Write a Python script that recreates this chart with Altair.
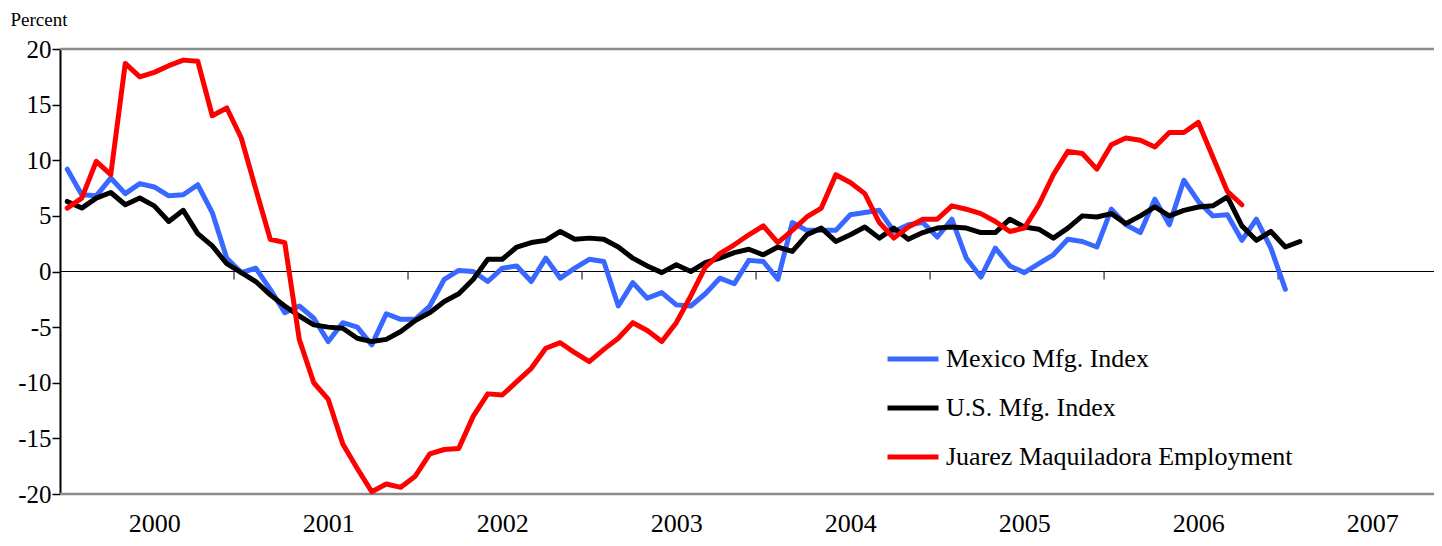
import altair as alt
import pandas as pd

# ---- data (monthly, Jan 2000 = index 0) ----
years = ["2000", "2001", "2002", "2003", "2004", "2005", "2006", "2007"]
year_label_pos = [6, 18, 30, 42, 54, 66, 78, 90]
year_boundaries = [11.5, 23.5, 35.5, 47.5, 59.5, 71.5, 83.5]
y_ticks = [-20, -15, -10, -5, 0, 5, 10, 15, 20]

series_names = ["Mexico Mfg. Index", "U.S. Mfg. Index", "Juarez Maquiladora Employment"]
series_colors = ["#3868FF", "#000000", "#FF0000"]

mexico = [9.2, 6.9, 6.8, 8.4, 7.0, 7.9, 7.6, 6.8, 6.9, 7.8, 5.3, 1.2,
          -0.1, 0.3, -1.6, -3.7, -3.1, -4.2, -6.3, -4.6, -5.0, -6.6, -3.8, -4.3,
          -4.3, -3.1, -0.7, 0.1, 0.0, -0.9, 0.3, 0.5, -0.9, 1.2, -0.6, 0.3,
          1.1, 0.9, -3.1, -1.0, -2.4, -1.9, -3.0, -3.1, -2.0, -0.6, -1.1, 1.0,
          0.9, -0.7, 4.4, 3.7, 3.7, 3.7, 5.1, 5.3, 5.5, 3.6, 4.2, 4.4,
          3.1, 4.7, 1.2, -0.5, 2.1, 0.5, -0.1, 0.7, 1.5, 2.9, 2.7, 2.2,
          5.6, 4.2, 3.5, 6.5, 4.2, 8.2, 6.3, 5.0, 5.1, 2.8, 4.7, 2.1,
          -1.6]

us = [6.3, 5.7, 6.6, 7.1, 6.0, 6.6, 5.9, 4.5, 5.5, 3.4, 2.3, 0.7,
      -0.1, -0.9, -2.1, -3.1, -4.0, -4.8, -5.0, -5.1, -6.0, -6.3, -6.1, -5.4,
      -4.4, -3.7, -2.7, -2.0, -0.7, 1.1, 1.1, 2.2, 2.6, 2.8, 3.6, 2.9,
      3.0, 2.9, 2.2, 1.2, 0.5, -0.1, 0.6, 0.0, 0.8, 1.2, 1.7, 2.0,
      1.5, 2.2, 1.8, 3.3, 3.9, 2.7, 3.3, 4.0, 3.0, 3.9, 2.9, 3.5,
      3.9, 4.0, 3.9, 3.5, 3.5, 4.7, 4.0, 3.8, 3.0, 3.9, 5.0, 4.9,
      5.2, 4.3, 5.0, 5.8, 5.0, 5.5, 5.8, 5.9, 6.7, 4.1, 2.8, 3.6,
      2.2, 2.7]

juarez = [5.7, 6.6, 9.9, 8.7, 18.7, 17.5, 17.9, 18.5, 19.0, 18.9, 14.0, 14.7,
          12.0, 7.4, 2.9, 2.6, -6.1, -10.0, -11.5, -15.5, -17.7, -19.8, -19.1, -19.4,
          -18.4, -16.4, -16.0, -15.9, -13.0, -11.0, -11.1, -9.9, -8.7, -6.9, -6.4, -7.3,
          -8.1, -7.0, -6.0, -4.6, -5.3, -6.3, -4.6, -2.2, 0.4, 1.6, 2.4, 3.3,
          4.1, 2.6, 3.7, 4.9, 5.7, 8.7, 8.0, 7.0, 4.4, 3.0, 4.0, 4.7,
          4.7, 5.9, 5.6, 5.2, 4.5, 3.6, 3.9, 6.0, 8.7, 10.8, 10.6, 9.2,
          11.4, 12.0, 11.8, 11.2, 12.5, 12.5, 13.4, 10.3, 7.2, 6.0]

FONT = "Liberation Serif"

rows = []
for name, vals in zip(series_names, [mexico, us, juarez]):
    for i, v in enumerate(vals):
        rows.append({"t": i, "v": v, "series": name})
df = pd.DataFrame(rows)

frame_df = pd.DataFrame({"v": [y_ticks[0], y_ticks[-1]]})
zero_df = pd.DataFrame({"v": [0]})
bound_df = pd.DataFrame({"t": year_boundaries, "v": [0] * len(year_boundaries),
                         "v2": [-0.72] * len(year_boundaries)})

xscale = alt.Scale(domain=[-0.5, 94.25], nice=False, zero=False)
yscale = alt.Scale(domain=[y_ticks[0], y_ticks[-1]], nice=False, zero=False)

label_expr = "[" + ",".join("'%s'" % y for y in years) + "][round((datum.value - 6) / 12)]"

x_axis = alt.Axis(
    values=year_label_pos, labelExpr=label_expr, ticks=False, tickSize=0,
    domain=False, grid=False, labelFont=FONT, labelFontSize=26,
    labelColor="#000000", labelPadding=37, labelBaseline="alphabetic",
    labelFlush=False, labelOverlap=False, title=None)
y_axis = alt.Axis(
    values=y_ticks, labelExpr="datum.value", grid=False,
    domain=True, domainColor="#000000", domainWidth=2,
    ticks=True, tickSize=8, tickColor="#000000", tickWidth=1.5,
    labelFont=FONT, labelFontSize=25, labelColor="#000000", labelPadding=1,
    title="Percent", titleAngle=0, titleAlign="left", titleBaseline="alphabetic",
    titleX=-50, titleY=-24, titleFont=FONT, titleFontSize=19,
    titleFontWeight="normal", titleColor="#000000")

X = alt.X("t:Q", scale=xscale, axis=x_axis)
Y = alt.Y("v:Q", scale=yscale, axis=y_axis)

frame = alt.Chart(frame_df).mark_rule(color="#8a8a8a", strokeWidth=2.5).encode(y=Y)
zero = alt.Chart(zero_df).mark_rule(color="#000000", strokeWidth=1).encode(y=Y)
bounds = alt.Chart(bound_df).mark_rule(color="#555555", strokeWidth=1.5).encode(
    x=X, y=Y, y2="v2:Q")

color = alt.Color(
    "series:N",
    scale=alt.Scale(domain=series_names, range=series_colors),
    legend=alt.Legend(
        title=None, orient="none", legendX=825, legendY=282,
        symbolType="stroke", symbolSize=2600, symbolStrokeWidth=5,
        labelFont=FONT, labelFontSize=26, labelColor="#000000", labelLimit=600,
        labelOffset=5, rowPadding=8, padding=0,
    ),
)

def line_layer(name):
    return alt.Chart(df).transform_filter(alt.datum.series == name).mark_line(
        strokeWidth=5, strokeJoin="round", strokeCap="round"
    ).encode(x=X, y=Y, color=color)

lines = [line_layer(n) for n in series_names]

chart = alt.layer(frame, zero, bounds, *lines).properties(
    width=1374, height=445,
    padding={"left": 52, "top": 41, "right": 0, "bottom": 44},
    autosize=alt.AutoSizeParams(type="none"),
).configure_view(stroke=None).configure(background="white")

chart.save("out.html", embed_options={"renderer": "svg", "actions": False})
